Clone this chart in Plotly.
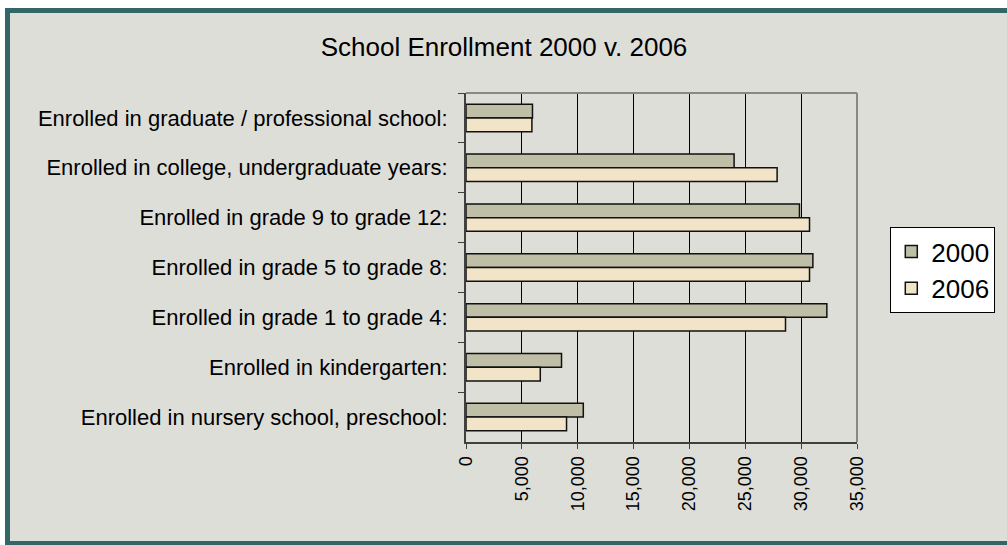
import plotly.graph_objects as go

categories = [
    "Enrolled in graduate / professional school:",
    "Enrolled in college, undergraduate years:",
    "Enrolled in grade 9 to grade 12:",
    "Enrolled in grade 5 to grade 8:",
    "Enrolled in grade 1 to grade 4:",
    "Enrolled in kindergarten:",
    "Enrolled in nursery school, preschool:",
]
values_2000 = [5950, 24000, 29850, 31050, 32300, 8550, 10500]
values_2006 = [5900, 27850, 30750, 30750, 28600, 6650, 9000]
series_names = ["2000", "2006"]
x_ticks = [0, 5000, 10000, 15000, 20000, 25000, 30000, 35000]

FONT = "Liberation Sans, Arial, sans-serif"
C2000 = "#BFBFA8"
C2006 = "#F2E4C8"

fig = go.Figure()
for name, vals, col in [(series_names[0], values_2000, C2000),
                        (series_names[1], values_2006, C2006)]:
    fig.add_trace(go.Bar(
        y=categories, x=vals, name=name, orientation="h",
        marker=dict(color=col, line=dict(color="#111111", width=1.5)),
        legendgroup=name,
    ))

# plot-area geometry in px
L, R, T, B = 466, 859, 93, 442
W, H = 1007, 545
pw, ph = R - L, B - T

def px_x(p):
    return (p - L) / pw

def px_y(p):
    return (B - p) / ph

def pix_rect(x0, x1, y0, y1, color):
    # rectangle given in page pixels (y downward), anchored at plot origin
    return dict(type="rect", xref="paper", yref="paper", layer="below",
                xsizemode="pixel", ysizemode="pixel", xanchor=0, yanchor=0,
                x0=x0 - L, x1=x1 - L, y0=B - y1, y1=B - y0,
                fillcolor=color, line=dict(width=0))

shapes = [
    pix_rect(5, W, 8, H, "#336666"),           # outer teal frame
    pix_rect(10, W, 13, 541, "#DEDED9"),       # inner gray panel
    # top and right plot border
    dict(type="line", xref="paper", yref="paper", x0=0, x1=1, y0=1, y1=1,
         line=dict(color="#888888", width=2)),
    dict(type="line", xref="paper", yref="paper", x0=1, x1=1, y0=0, y1=1,
         line=dict(color="#888888", width=2)),
]

fig.update_layout(
    width=W, height=H,
    margin=dict(l=L, r=W - R, t=T, b=H - B, pad=0),
    paper_bgcolor="white",
    plot_bgcolor="white",
    font=dict(family=FONT, color="black"),
    title=dict(text="School Enrollment 2000 v. 2006", x=504 / W, xref="container",
               y=1 - 47 / H, yref="container", yanchor="middle", xanchor="center",
               font=dict(size=26, family=FONT, color="black")),
    barmode="group", bargap=0.45, bargroupgap=0,
    showlegend=True,
    legend=dict(x=px_x(998), y=px_y(227), xanchor="right", yanchor="top",
                bgcolor="white", bordercolor="black", borderwidth=1,
                font=dict(size=26, family=FONT, color="black"),
                traceorder="normal", tracegroupgap=2),
    shapes=shapes,
)

fig.update_xaxes(
    range=[0, 35000], tickvals=x_ticks, tickformat=",", tickangle=-90,
    showgrid=True, gridcolor="black", gridwidth=1,
    showline=True, linecolor="#404040", linewidth=2,
    ticks="outside", ticklen=5, tickcolor="#404040",
    tickfont=dict(size=18, family=FONT, color="black"),
    zeroline=False, fixedrange=True, automargin=False,
)
fig.update_yaxes(
    autorange="reversed", showgrid=False,
    showline=True, linecolor="#404040", linewidth=2,
    ticks="outside", ticklen=6, tickcolor="#404040", tickson="boundaries",
    tickfont=dict(size=22, family=FONT, color="black"),
    ticklabelstandoff=12,
    fixedrange=True, automargin=False,
)

fig.write_html(
    "out.html", config={"displayModeBar": False},
    post_script=("document.body.style.margin='0px';"
                 "document.body.style.overflow='hidden';"
                 "document.documentElement.style.overflow='hidden';"),
)
